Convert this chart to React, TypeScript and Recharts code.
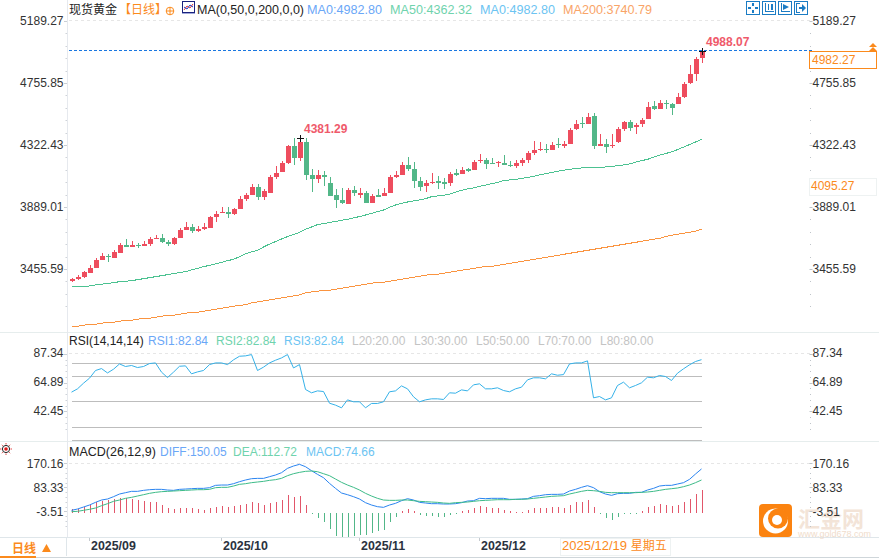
import React from 'react';
import { ComposedChart, Bar, Line, XAxis, YAxis, ReferenceLine } from 'recharts';

const opens = [3372,3386,3402,3430,3465,3519,3547,3535,3570,3623,3612,3626,3619,3630,3668,3672,3644,3630,3675,3731,3749,3721,3735,3742,3822,3847,3852,3838,3877,3945,3975,4027,3961,3989,4099,4136,4197,4315,4234,4343,4113,4087,4113,4057,3973,3938,3910,4008,3973,3987,3919,3973,3966,3989,4099,4115,4183,4155,4071,4036,4059,4071,4064,4057,4127,4120,4155,4148,4213,4218,4197,4197,4197,4183,4176,4197,4218,4267,4288,4297,4288,4330,4316,4330,4434,4476,4469,4525,4316,4330,4316,4344,4434,4483,4448,4469,4504,4595,4574,4616,4609,4609,4658,4756,4819,4931];
const highs = [3393,3411,3439,3484,3530,3565,3561,3589,3635,3663,3651,3635,3651,3679,3693,3698,3661,3679,3742,3784,3770,3756,3777,3826,3861,3889,3889,3882,3966,3987,4050,4050,4015,4113,4176,4211,4322,4371,4381.29,4371,4155,4148,4141,4099,4015,4022,4020,4036,4022,4001,3980,4015,4022,4113,4141,4204,4239,4204,4099,4078,4127,4106,4092,4134,4155,4169,4162,4218,4260,4232,4232,4211,4253,4211,4218,4232,4281,4350,4343,4330,4343,4371,4350,4441,4497,4518,4546,4546,4399,4364,4399,4448,4490,4497,4476,4511,4623,4630,4637,4637,4616,4686,4763,4882,4938,4988.07];
const lows = [3367,3379,3395,3425,3463,3516,3507,3533,3568,3609,3609,3605,3616,3619,3668,3640,3619,3626,3672,3726,3710,3714,3728,3742,3787,3847,3812,3833,3875,3931,3973,3938,3940,3987,4085,4134,4192,4183,4211,4078,3996,4059,4038,3966,3884,3910,3910,3966,3952,3917,3917,3959,3964,3987,4094,4113,4143,4022,4001,3994,4052,4015,4015,4036,4106,4120,4134,4148,4197,4155,4190,4169,4183,4169,4162,4176,4197,4253,4281,4267,4288,4302,4302,4330,4427,4441,4469,4295,4316,4267,4302,4337,4420,4420,4399,4448,4504,4567,4574,4574,4532,4609,4651,4749,4770,4896];
const closes = [3388,3400,3432,3463,3516,3547,3537,3575,3623,3612,3623,3621,3630,3663,3675,3647,3633,3672,3728,3749,3724,3733,3749,3819,3840,3852,3842,3875,3945,3973,4027,3961,4001,4099,4127,4197,4315,4234,4343,4115,4087,4113,4101,3968,3940,3917,4008,3987,3987,3919,3966,3961,3987,4099,4113,4183,4155,4071,4031,4057,4066,4059,4050,4120,4113,4148,4141,4204,4218,4190,4192,4204,4185,4176,4197,4218,4267,4288,4295,4290,4323,4323,4330,4427,4469,4472,4518,4316,4330,4309,4323,4434,4483,4441,4462,4497,4588,4574,4616,4607,4581,4658,4749,4819,4924,4982.27];
const ma50 = [3335,3335,3335,3337,3344,3349,3355,3360,3367,3370,3374,3381,3388,3395,3402,3409,3416,3423,3430,3437,3449,3460,3472,3481,3491,3502,3514,3523,3542,3561,3575,3586,3609,3630,3647,3665,3682,3696,3712,3733,3749,3766,3773,3781,3788,3796,3803,3813,3822,3833,3845,3856,3868,3887,3903,3915,3924,3931,3938,3947,3961,3966,3971,3978,3992,4006,4015,4022,4034,4041,4052,4061,4073,4078,4082,4089,4095,4104,4113,4122,4130,4138,4146,4152,4158,4162,4163,4163,4164,4169,4173,4178,4183,4190,4202,4213,4222,4237,4252,4262,4275,4290,4308,4325,4343,4362.32];
const ma200 = [3055,3055,3062,3069,3069,3076,3083,3083,3090,3097,3097,3104,3111,3111,3118,3125,3132,3132,3139,3146,3153,3153,3160,3167,3174,3181,3188,3195,3202,3205,3218,3225,3232,3239,3246,3253,3260,3267,3274,3288,3295,3300,3307,3307,3314,3321,3328,3335,3342,3349,3356,3363,3363,3370,3377,3384,3391,3398,3405,3412,3419,3419,3426,3433,3440,3447,3453,3460,3467,3474,3474,3481,3488,3495,3502,3509,3516,3523,3530,3537,3544,3551,3558,3565,3572,3579,3586,3593,3600,3607,3614,3621,3628,3635,3642,3649,3656,3663,3670,3682,3691,3698,3705,3712,3719,3735];
const rsi = [57.5,60.1,64.5,68.4,74.4,75.9,72.5,75.4,79.5,77.5,78.3,76.7,77.5,79.8,80.3,73.1,68.9,73.1,77.7,78.0,71.8,73.3,74.4,79.0,80.3,80.3,79.0,82.7,85.5,85.8,86.8,74.4,77.0,80.3,82.4,84.2,86.8,76.4,79.0,59.6,57.0,58.5,58.0,48.9,47.4,45.3,51.5,50.0,50.0,45.3,48.7,48.7,50.0,57.8,58.5,62.4,60.1,53.9,50.0,51.5,52.3,52.3,51.8,57.0,56.7,59.3,58.5,63.2,64.0,60.1,60.1,60.9,58.8,57.8,60.1,61.4,67.1,68.7,68.7,67.9,71.8,70.7,71.2,79.5,80.3,80.3,81.9,53.1,54.1,51.5,53.1,62.7,65.3,60.9,62.7,64.8,69.2,68.7,70.5,69.7,66.6,72.3,75.7,78.8,81.4,82.84];
const diff = [0.2,5,12.2,19.4,29.1,37.5,41.2,49.6,59.2,64.1,68.9,68.9,72.5,74.9,76.1,76.1,73.7,72.5,76.1,77.3,78.5,79.7,79.7,82.2,90.6,91.8,91.8,96.6,103.9,109.9,114.7,115.9,115.9,122,128,136.4,152.1,160.6,166.6,158.1,143.7,130.4,118.3,97.8,79.7,62.9,56.8,49.6,41.2,27.9,19.4,13.4,11,19.4,25.5,35.1,42.4,37.5,29.1,26.7,24.3,24.3,23.1,23.1,24.3,27.9,33.9,35.1,43.6,42.4,43.6,43.6,43.6,40,40,41.2,42.4,50.8,53.2,56.8,58,58,59.2,70.1,76.1,83.4,89.4,82.2,67.7,59.2,54.4,60.5,61.7,61.7,65.3,65.3,73.7,79.7,88.2,90.6,90.6,95.4,100.3,112.3,131.6,150.05];
const dea = [-4.7,-3.4,0.2,3.8,8.6,17,24.3,32.7,37.5,43.6,47.2,52,56.8,61.7,65.3,67.7,68.9,70.1,71.3,72.5,73.7,74.9,74.9,76.1,82.2,83.4,83.4,88.2,94.2,96.6,100.3,102.7,105.1,108.7,111.1,115.9,125.6,132.8,137.6,141.3,142.5,140,132.8,125.6,113.5,101.5,91.8,83.4,73.7,61.7,52,43.6,37.5,36.3,36.3,37.5,37.5,35.1,32.7,31.5,30.3,29.1,26.7,25.5,27.9,29.1,30.3,32.7,35.1,36.3,37.5,38.7,38.7,38.7,40,40,41.2,43.6,46,48.4,50.8,52,53.2,59.2,64.1,68.9,72.5,71.3,68.9,65.3,64.1,64.1,64.1,64.1,64.1,65.3,66.5,68.9,72.5,76.1,78.5,81,85.8,91.8,100.3,110];
const macd = [5,6.2,11,19.4,31.5,35.1,37.5,41.1,43.6,43.6,42.4,38.7,32.7,30.3,29.1,19.4,8.6,5,8.6,9.8,8.6,5,1.3,8.6,13.4,14.6,13.4,14.6,20.6,24.3,30.3,26.7,20.6,26.7,31.5,37.5,55.6,49.6,52,20.6,-9.3,-28.8,-43.3,-67.4,-92.7,-96.3,-96.3,-92.7,-89.1,-89.1,-83.1,-75.8,-71,-42.1,-25.2,-2.3,5,-1.1,-18,-20.4,-20.4,-22.8,-22.8,-15.5,-13.1,-2.3,1.3,9.8,17,11,9.8,8.6,1.3,-2.3,-5.9,-5.9,2.6,8.6,8.6,8.6,13.4,12.2,9.8,20.6,30.3,30.3,37.5,12.2,-9.3,-28.8,-34.8,-24,-11.9,-9.5,-9.5,-2.3,12.2,15.8,23,19.4,17,19.4,30.3,41.1,59.2,74.66];
const macdBase = -8.3;
const rsiLevels = [80, 70, 50, 30, 20];
const priceTicks = [5189.27, 4755.85, 4322.43, 3889.01, 3455.59];
const rsiTicks = [87.34, 64.89, 42.45];
const macdTicks = [170.16, 83.33, -3.51];
const monthIndex = [3, 25, 48, 68];
const monthLabels = ['2025/09', '2025/10', '2025/11', '2025/12'];
const peakIndex = [38, 105];
const peakLabels = ['4381.29', '4988.07'];
const lastPrice = 4982.27;
const SLOTS = 124;

const RED = '#ee4d5e';
const GREEN = '#52b788';
const FONT = '"Liberation Sans", Arial, sans-serif';
const CJK = '"Noto Sans CJK SC", sans-serif';
const ORANGE = '#fb8a1c';

const rows = Array.from({ length: SLOTS }, (_, i) =>
  i < opens.length
    ? { i, o: opens[i], h: highs[i], l: lows[i], c: closes[i], ma50: ma50[i], ma200: ma200[i], rsi: rsi[i], diff: diff[i], dea: dea[i], macd: macd[i] }
    : { i });

const withMinors = (majors: number[], count: number) => {
  const step = (majors[0] - majors[1]) / 5;
  const out: number[] = [];
  for (let k = 0; k < count; k++) out.push(+(majors[0] - step * k).toFixed(2));
  return out;
};

const axisTick = (side: 'l' | 'r', majors: number[], dy = 0) => (p: any) => {
  const v = p.payload.value;
  const y = p.y;
  const major = majors.find((m) => Math.abs(m - v) < 0.05);
  const label = major != null ? major.toFixed(2) : null;
  if (side === 'l') {
    return (
      <g>
        {label ? <rect x={64} y={Math.round(y)} width={3} height={1} fill="#c9ced4" /> : <rect x={65.5} y={Math.round(y)} width={1.5} height={1} fill="#cfd3d8" />}
        {label && <text x={63.5} y={y + 4.2 + dy} textAnchor="end" fontSize={12} fontFamily={FONT} fill="#333">{label}</text>}
      </g>
    );
  }
  return (
    <g>
      <rect x={label ? 809.5 : 810} y={Math.round(y)} width={label ? 3 : 1} height={1} fill="#bfc4c9" />
      {label && <text x={812.5} y={y + 4.2 + dy} textAnchor="start" fontSize={12} fontFamily={FONT} fill="#333">{label}</text>}
    </g>
  );
};

const Candle = (p: any) => {
  const d = p.payload;
  if (!d || d.h == null || !p.height) return <g />;
  const px = Math.round(p.x + p.width / 2);
  const k = p.height / (d.h - d.l);
  const top = p.y + (d.h - Math.max(d.o, d.c)) * k;
  const bot = p.y + (d.h - Math.min(d.o, d.c)) * k;
  const up = d.c >= d.o;
  const col = up ? RED : GREEN;
  const peak = peakIndex.indexOf(d.i);
  return (
    <g shapeRendering="crispEdges">
      <rect x={px} y={p.y} width={1} height={Math.max(p.height, 1)} fill={col} />
      <rect x={px - 2} y={Math.round(top)} width={5} height={Math.max(Math.round(bot) - Math.round(top), 1)} fill={col} />
      {peak >= 0 && (
        <g>
          <rect x={px - 3} y={Math.round(p.y) + 1} width={7} height={1} fill="#111" />
          <rect x={px} y={Math.round(p.y) - 2} width={1} height={7} fill="#111" />
          <text x={px + 4} y={p.y - 3.5} fontSize={12} fontWeight="bold" fontFamily={FONT} fill="#ef5a6b" shapeRendering="auto">{peakLabels[peak]}</text>
        </g>
      )}
    </g>
  );
};

const HistBar = (p: any) => {
  const d = p.payload;
  if (!d || d.macd == null) return <g />;
  const px = Math.round(p.x + p.width / 2);
  return <rect x={px} y={p.y} width={1} height={Math.max(p.height, 1)} fill={d.macd >= macdBase ? '#e2566a' : GREEN} shapeRendering="crispEdges" />;
};

const MonthTick = (p: any) => {
  const idx = monthIndex.indexOf(p.payload.value);
  if (idx < 0) return <g />;
  const x = p.x;
  return (
    <g>
      <rect x={Math.floor(x)} y={97} width={1} height={3} fill="#c4c9ce" />
      <text x={x + 1.5} y={109} fontSize={12.4} fontWeight="bold" fontFamily={FONT} fill="#2b3240">{monthLabels[idx]}</text>
    </g>
  );
};

const commonY = { tickLine: false, axisLine: false, allowDataOverflow: true, interval: 0 as const, type: 'number' as const };
const W = 879;

const Txt = ({ x, y, c, children, f, s, w }: any) => (
  <span style={{ position: 'absolute', left: x, top: y, color: c, font: `${w || 'normal'} ${s || 12}px/14px ${f || FONT}`, whiteSpace: 'pre' }}>{children}</span>
);
const HLine = ({ y, x = 0, w = W, c = '#e6eded', h = 1 }: any) => (
  <div style={{ position: 'absolute', left: x, top: y, width: w, height: h, background: c }} />
);

const ToolBtn = ({ x, kind }: any) => (
  <svg style={{ position: 'absolute', left: x, top: 1 }} width={14} height={14}>
    <rect x={0.5} y={0.5} width={13} height={13} fill="#fff" stroke="#1b7cc4" />
    {kind === 0 && (<g fill="#1b7cc4"><rect x={6} y={2} width={2} height={3} /><rect x={6} y={9} width={2} height={3} /><rect x={2} y={6} width={3} height={2} /><rect x={9} y={6} width={3} height={2} /></g>)}
    {kind === 1 && (<g fill="#1b7cc4"><rect x={3} y={2} width={1} height={9} /><rect x={3} y={10} width={9} height={1} /><rect x={6} y={3} width={1} height={6} /><rect x={9} y={3} width={2} height={6} /></g>)}
    {kind === 2 && (<g fill="#1b7cc4"><rect x={3} y={2} width={1} height={9} /><rect x={3} y={10} width={9} height={1} /><path d="M5 3 L11 6 L5 9 Z" /></g>)}
    {kind === 3 && (<g fill="#1b7cc4"><rect x={2} y={2} width={1} height={10} /><rect x={2} y={2} width={4} height={1} /><rect x={2} y={11} width={4} height={1} /><rect x={5} y={6} width={4} height={2} /><path d="M8 3 L12 7 L8 11 Z" /></g>)}
  </svg>
);

export default function App() {
  const legend = [
    { x: 307, c: '#6aa7f7', t: 'MA0:4982.80' }, { x: 390, c: '#6fd3ad', t: 'MA50:4362.32' },
    { x: 480, c: '#6cc4f2', t: 'MA0:4982.80' }, { x: 563, c: '#f9a468', t: 'MA200:3740.79' },
  ];
  const rsiLegend = [
    { x: 148, c: '#6aa7f7', t: 'RSI1:82.84' }, { x: 216, c: '#6fd3ad', t: 'RSI2:82.84' }, { x: 284, c: '#6cc4f2', t: 'RSI3:82.84' },
    { x: 352, c: '#c4c4c4', t: 'L20:20.00' }, { x: 414, c: '#c4c4c4', t: 'L30:30.00' }, { x: 476, c: '#c4c4c4', t: 'L50:50.00' },
    { x: 538, c: '#c4c4c4', t: 'L70:70.00' }, { x: 600, c: '#c4c4c4', t: 'L80:80.00' },
  ];
  const macdLegend = [
    { x: 160, c: '#6aa7f7', t: 'DIFF:150.05' }, { x: 233, c: '#6fd3ad', t: 'DEA:112.72' }, { x: 306, c: '#6cc4f2', t: 'MACD:74.66' },
  ];
  return (
    <div style={{ position: 'absolute', left: 0, top: 0, width: W, height: 559, background: '#fff', overflow: 'hidden' }}>
      <HLine y={332} /><HLine y={441} /><HLine y={537} c="#dfe6ea" /><HLine y={557} c="#cfd6da" />
      <div style={{ position: 'absolute', left: 67, top: 0, width: 1, height: 537, background: '#e6e9ee' }} />

      <svg style={{ position: 'absolute', left: 759, top: 504 }} width={33} height={33}>
        <rect width={33} height={33} rx={4} fill="#fb8310" />
        <circle cx={16.5} cy={17} r={12.5} fill="#fff" />
        <circle cx={19} cy={14.5} r={10} fill="#fb8310" />
        <circle cx={18} cy={16} r={5} fill="#fff" />
      </svg>
      <Txt x={798} y={505} c="#f0dccb" f={CJK} s={22} w="bold"><span style={{ lineHeight: '24px', opacity: 0.75 }}>汇金网</span></Txt>
      <Txt x={798} y={527} c="#f0dccb" s={9}>www.gold678.com</Txt>

      <div style={{ position: 'absolute', left: 0, top: 0 }}>
        <ComposedChart width={W} height={333} data={rows} margin={{ top: 0, right: 0, bottom: 0, left: 0 }} barCategoryGap={0}>
          <XAxis dataKey="i" hide scale="band" />
          <YAxis yAxisId="l" orientation="left" width={68.5} domain={[3008.2, 5336.07]} ticks={withMinors(priceTicks, 24)} tick={axisTick('l', priceTicks)} {...commonY} />
          <YAxis yAxisId="r" orientation="right" width={66.5} domain={[3008.2, 5336.07]} ticks={withMinors(priceTicks, 24)} tick={axisTick('r', priceTicks)} {...commonY} />
          <ReferenceLine yAxisId="l" y={priceTicks[0]} stroke="#e6e6e6" strokeDasharray="3 3" shapeRendering="crispEdges" />
          <ReferenceLine yAxisId="l" y={lastPrice} stroke="#1976e0" strokeDasharray="3 2" shapeRendering="crispEdges" />
          <Bar yAxisId="l" dataKey={(d: any) => (d.h == null ? null : [d.l, d.h])} barSize={5} shape={Candle} isAnimationActive={false} />
          <Line yAxisId="l" dataKey="ma50" stroke="#4cc291" strokeWidth={1} dot={false} isAnimationActive={false} shapeRendering="crispEdges" />
          <Line yAxisId="l" dataKey="ma200" stroke="#fa9440" strokeWidth={1} dot={false} isAnimationActive={false} shapeRendering="crispEdges" />
        </ComposedChart>
      </div>

      <div style={{ position: 'absolute', left: 0, top: 333 }}>
        <ComposedChart width={W} height={108} data={rows} margin={{ top: 0, right: 0, bottom: 0, left: 0 }}>
          <XAxis dataKey="i" hide scale="band" />
          <YAxis yAxisId="l" orientation="left" width={68.5} domain={[19.44, 103.62]} ticks={withMinors(rsiTicks, 14)} tick={axisTick('l', rsiTicks, -1)} {...commonY} />
          <YAxis yAxisId="r" orientation="right" width={66.5} domain={[19.44, 103.62]} ticks={withMinors(rsiTicks, 14)} tick={axisTick('r', rsiTicks, -1)} {...commonY} />
          <ReferenceLine yAxisId="l" y={rsiTicks[0]} stroke="#e6e6e6" strokeDasharray="3 3" shapeRendering="crispEdges" />
          {rsiLevels.map((lv) => (
            <Line key={lv} yAxisId="l" dataKey={(d: any) => (d.rsi == null ? null : lv)} stroke="#bdbdbd" strokeWidth={1} dot={false} isAnimationActive={false} shapeRendering="crispEdges" />
          ))}
          <Line yAxisId="l" dataKey="rsi" stroke="#35b1e8" strokeWidth={1} dot={false} isAnimationActive={false} />
        </ComposedChart>
      </div>

      <div style={{ position: 'absolute', left: 0, top: 441 }}>
        <ComposedChart width={W} height={116} data={rows} margin={{ top: 0, right: 0, bottom: 0, left: 0 }}>
          <XAxis dataKey="i" type="category" scale="band" height={20} ticks={monthIndex} interval={0} tick={MonthTick} tickLine={false} axisLine={false} />
          <YAxis yAxisId="l" orientation="left" width={68.5} domain={[-96.3, 251.1]} ticks={withMinors(macdTicks, 14)} tick={axisTick('l', macdTicks)} {...commonY} />
          <YAxis yAxisId="r" orientation="right" width={66.5} domain={[-96.3, 251.1]} ticks={withMinors(macdTicks, 14)} tick={axisTick('r', macdTicks)} {...commonY} />
          <ReferenceLine yAxisId="l" y={macdTicks[0]} stroke="#e6e6e6" strokeDasharray="3 3" shapeRendering="crispEdges" />
          <Bar yAxisId="l" dataKey={(d: any) => (d.macd == null ? null : [Math.min(macdBase, d.macd), Math.max(macdBase, d.macd)])} barSize={1} shape={HistBar} isAnimationActive={false} />
          <Line yAxisId="l" dataKey="diff" stroke="#2a84f0" strokeWidth={1} dot={false} isAnimationActive={false} />
          <Line yAxisId="l" dataKey="dea" stroke="#3dbb88" strokeWidth={1} dot={false} isAnimationActive={false} />
        </ComposedChart>
      </div>

      <Txt x={69} y={2} c="#222" f={CJK}>现货黄金</Txt>
      <Txt x={119} y={2} c={ORANGE} f={CJK}>【日线】</Txt>
      <svg style={{ position: 'absolute', left: 165, top: 6 }} width={10} height={10}>
        <circle cx={5} cy={5} r={3.8} fill="none" stroke={ORANGE} /><path d="M1 5H9M5 1V9" stroke={ORANGE} />
      </svg>
      <svg style={{ position: 'absolute', left: 182, top: 1 }} width={13} height={14}>
        <rect x={0.5} y={0.5} width={12} height={11} fill="#fff" stroke="#1a237e" /><rect x={0} y={12} width={13} height={1} fill="#9fa8da" />
        <path d="M2 9L5 5L8 7L11 3" fill="none" stroke="#e53935" /><path d="M2 6L5 8L8 4L11 6" fill="none" stroke="#1e40c8" />
      </svg>
      <Txt x={197} y={3} c="#222" s={12.5}>MA(0,50,0,200,0,0)</Txt>
      {legend.map((l) => <Txt key={l.x} x={l.x} y={3} c={l.c} s={12.6}>{l.t}</Txt>)}

      {[0, 1, 2, 3].map((k) => <ToolBtn key={k} x={746 + k * 16} kind={k} />)}

      <div style={{ position: 'absolute', left: 809, top: 51, width: 66, height: 16, border: `1px solid ${ORANGE}`, background: '#fff' }} />
      <Txt x={812} y={53} c={ORANGE}>4982.27</Txt>
      <svg style={{ position: 'absolute', left: 868, top: 43 }} width={10} height={9}>
        <path d="M1 4L5 0L9 4Z M1 8L5 4L9 8Z" fill={ORANGE} />
      </svg>
      <div style={{ position: 'absolute', left: 809, top: 178, width: 66, height: 16, border: '1px solid #eef2f2', background: '#fff' }} />
      <Txt x={811} y={179} c={ORANGE}>4095.27</Txt>

      <Txt x={69} y={334} c="#222">RSI(14,14,14)</Txt>
      {rsiLegend.map((l) => <Txt key={l.x} x={l.x} y={334} c={l.c}>{l.t}</Txt>)}
      <Txt x={69} y={445} c="#222" s={12.5}>MACD(26,12,9)</Txt>
      {macdLegend.map((l) => <Txt key={l.x} x={l.x} y={445} c={l.c}>{l.t}</Txt>)}

      <svg style={{ position: 'absolute', left: 0, top: 443 }} width={13} height={13}>
        <circle cx={6} cy={6} r={3.6} fill="#fff" stroke="#222" /><circle cx={6} cy={6} r={1.8} fill="#e01818" />
        <path d="M6 0V1.5M6 10.5V12M0 6H1.5M10.5 6H12M1.8 1.8L2.8 2.8M9.2 9.2L10.2 10.2M1.8 10.2L2.8 9.2M9.2 2.8L10.2 1.8" stroke="#e01818" strokeWidth={0.8} />
      </svg>

      <div style={{ position: 'absolute', left: 0, top: 538, width: 66, height: 18, borderRight: '1px solid #dfe6ea', background: '#fff' }} />
      <Txt x={12} y={541} c={ORANGE} f={CJK} s={12} w="bold">日线</Txt>
      <svg style={{ position: 'absolute', left: 42, top: 544 }} width={9} height={8}><path d="M0 8L4.5 0L9 8Z" fill={ORANGE} /></svg>
      <HLine y={556} w={36} c={ORANGE} h={2} />

      <div style={{ position: 'absolute', left: 560, top: 538, width: 109, height: 16, border: '1px solid #eef2f2', background: '#fff' }} />
      <Txt x={562} y={539} c={ORANGE} s={13} f={`"Liberation Sans", "Noto Sans CJK SC"`}>2025/12/19 <span style={{ fontSize: 12 }}>星期五</span></Txt>
    </div>
  );
}
